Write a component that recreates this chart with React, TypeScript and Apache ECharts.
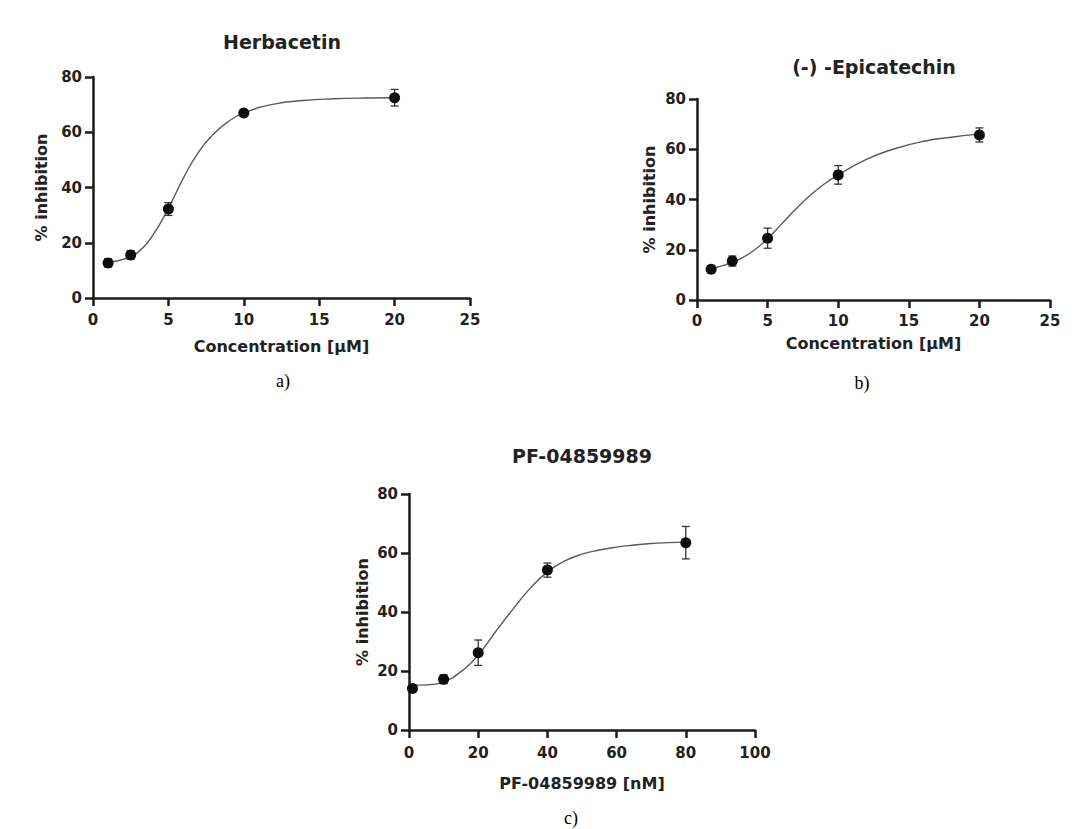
import React, { useEffect, useRef } from "react";
import * as echarts from "echarts";

// ---- Panel a: Herbacetin ----
const hConc = [1, 2.5, 5, 10, 20];
const hInhib = [12.7, 15.6, 32.2, 67, 72.5];
const hErr = [1.5, 1.5, 2.3, 1, 3];
const hFitX = [1, 2, 3, 4, 5, 6, 7, 8, 9, 10, 12, 14, 16, 18, 20];
const hFitY = [13, 14, 16.6, 23, 32.5, 43.5, 52.8, 59.4, 64, 67, 70.2, 71.5, 72.1, 72.4, 72.5];

// ---- Panel b: (-)-Epicatechin ----
const eConc = [1, 2.5, 5, 10, 20];
const eInhib = [12.2, 15.5, 24.6, 49.8, 65.7];
const eErr = [1.5, 2, 4, 3.7, 2.8];
const eFitX = [1, 2, 3, 4, 5, 6, 7, 8, 9, 10, 12, 14, 16, 18, 20];
const eFitY = [12.5, 14, 16.2, 19.6, 24.4, 30.3, 36.2, 41.6, 46.1, 49.8, 56, 60.2, 63.1, 64.8, 66];

// ---- Panel c: PF-04859989 ----
const pConc = [1, 10, 20, 40, 80];
const pInhib = [14.1, 17.2, 26.2, 54.2, 63.5];
const pErr = [0.8, 1.5, 4.3, 2.4, 5.5];
const pFitX = [1, 5, 10, 15, 20, 25, 30, 35, 40, 45, 50, 55, 60, 65, 70, 75, 80];
const pFitY = [15.2, 15.3, 16.4, 19.8, 25.4, 33.3, 40.9, 48, 53.6, 57.3, 59.6, 61, 62, 62.7, 63.2, 63.5, 63.7];

const titles = ["Herbacetin", "(-) -Epicatechin", "PF-04859989"];
const xNames = ["Concentration [µM]", "Concentration [µM]", "PF-04859989 [nM]"];
const yName = "% inhibition";
const captions = ["a)", "b)", "c)"];
const xMax = [25, 25, 100];
const xInterval = [5, 5, 20];

const FONT = "'DejaVu Sans', Arial, sans-serif";
const AX = "#1c1c1c";

export default function App() {
  const ref = useRef<HTMLDivElement>(null);
  useEffect(() => {
    if (!ref.current) return;
    const chart = echarts.init(ref.current, null, { renderer: "svg" });

    const grids = [
      { left: 93, top: 77, width: 377, height: 221 },
      { left: 697, top: 99, width: 353, height: 201 },
      { left: 409, top: 494, width: 346, height: 236 },
    ];
    const xLabelMargin = [14, 13, 15];
    const xNameGap = [40, 35, 45];
    const yNameGap = [44, 40, 39];

    const panels = [
      { conc: hConc, inhib: hInhib, err: hErr, fx: hFitX, fy: hFitY },
      { conc: eConc, inhib: eInhib, err: eErr, fx: eFitX, fy: eFitY },
      { conc: pConc, inhib: pInhib, err: pErr, fx: pFitX, fy: pFitY },
    ];

    const xAxis = grids.map((g, i) => ({
      type: "value",
      gridIndex: i,
      min: 0,
      max: xMax[i],
      interval: xInterval[i],
      name: xNames[i],
      nameLocation: "middle",
      nameGap: xNameGap[i],
      nameTextStyle: { fontFamily: FONT, fontWeight: "bold", fontSize: 16, color: "#222" },
      axisLine: { show: true, onZero: false, lineStyle: { color: AX, width: 2.5 } },
      axisTick: { show: true, length: 8, lineStyle: { color: AX, width: 2.5 } },
      axisLabel: { fontFamily: FONT, fontWeight: "bold", fontSize: 15, color: "#222", margin: xLabelMargin[i] },
      splitLine: { show: false },
    }));
    const yAxis = grids.map((g, i) => ({
      type: "value",
      gridIndex: i,
      min: 0,
      max: 80,
      interval: 20,
      name: yName,
      nameLocation: "middle",
      nameGap: yNameGap[i],
      nameTextStyle: { fontFamily: FONT, fontWeight: "bold", fontSize: 16, color: "#222" },
      axisLine: { show: true, onZero: false, lineStyle: { color: AX, width: 2.5 } },
      axisTick: { show: true, length: 8, lineStyle: { color: AX, width: 2.5 } },
      axisLabel: { fontFamily: FONT, fontWeight: "bold", fontSize: 15, color: "#222", margin: 11 },
      splitLine: { show: false },
    }));

    const series: any[] = [];
    panels.forEach((p, i) => {
      series.push({
        type: "line",
        xAxisIndex: i,
        yAxisIndex: i,
        data: p.fx.map((x, k) => [x, p.fy[k]]),
        smooth: 0.5,
        showSymbol: false,
        lineStyle: { color: "#5a5a5a", width: 1.4 },
        z: 2,
      });
      series.push({
        type: "custom",
        xAxisIndex: i,
        yAxisIndex: i,
        data: p.conc.map((x, k) => [x, p.inhib[k] - p.err[k], p.inhib[k] + p.err[k]]),
        encode: { x: 0, y: [1, 2] },
        renderItem: (params: any, api: any) => {
          const x = api.value(0);
          const top = api.coord([x, api.value(2)]);
          const bot = api.coord([x, api.value(1)]);
          const w = 4;
          const st = { stroke: "#333", lineWidth: 1.3 };
          return {
            type: "group",
            children: [
              { type: "line", shape: { x1: top[0], y1: top[1], x2: bot[0], y2: bot[1] }, style: st },
              { type: "line", shape: { x1: top[0] - w, y1: top[1], x2: top[0] + w, y2: top[1] }, style: st },
              { type: "line", shape: { x1: bot[0] - w, y1: bot[1], x2: bot[0] + w, y2: bot[1] }, style: st },
            ],
          };
        },
        z: 3,
      });
      series.push({
        type: "scatter",
        xAxisIndex: i,
        yAxisIndex: i,
        data: p.conc.map((x, k) => [x, p.inhib[k]]),
        symbol: "circle",
        symbolSize: 11,
        itemStyle: { color: "#0d0d0d", opacity: 1 },
        z: 4,
      });
    });

    const titlePos = [
      [282, 42],
      [874, 67],
      [582, 456],
    ];
    const capPos = [
      [283, 381],
      [862, 383],
      [571, 818],
    ];
    const graphic: any[] = [];
    titles.forEach((t, i) => {
      graphic.push({
        type: "text",
        x: titlePos[i][0],
        y: titlePos[i][1],
        style: {
          text: t,
          fontFamily: FONT,
          fontWeight: "bold",
          fontSize: 19,
          fill: "#222",
          textAlign: "center",
          textVerticalAlign: "middle",
        },
      });
    });
    captions.forEach((t, i) => {
      graphic.push({
        type: "text",
        x: capPos[i][0],
        y: capPos[i][1],
        style: {
          text: t,
          fontFamily: "'Liberation Serif', 'Times New Roman', serif",
          fontSize: 18,
          fill: "#000",
          textAlign: "center",
          textVerticalAlign: "middle",
        },
      });
    });

    chart.setOption({
      animation: false,
      backgroundColor: "#fff",
      grid: grids.map((g) => ({ ...g, containLabel: false, outerBoundsMode: "none" })),
      xAxis,
      yAxis,
      series,
      graphic,
    });
    return () => chart.dispose();
  }, []);
  return (
    <div
      ref={ref}
      style={{ position: "fixed", left: 0, top: 0, width: 1092, height: 829 }}
    />
  );
}
